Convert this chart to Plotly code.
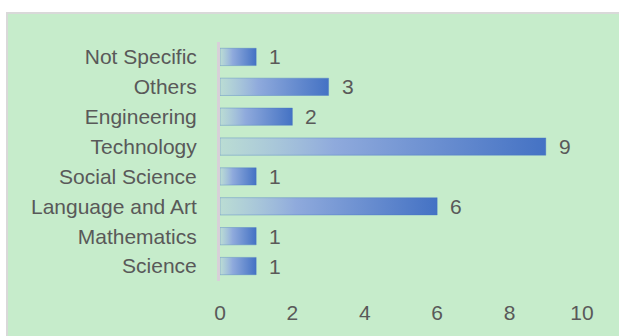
import plotly.graph_objects as go

categories = ["Science", "Mathematics", "Language and Art", "Social Science",
              "Technology", "Engineering", "Others", "Not Specific"]
values = [1, 1, 6, 1, 9, 2, 3, 1]
x_ticks = [0, 2, 4, 6, 8, 10]

W, H = 619, 336
ML, MR, MT, MB = 220, 37, 42, 55
BG = "#C6ECCB"
TXT = "#595959"
FONT = "Liberation Sans, Arial, sans-serif"
FS = 21
half = 0.29

fig = go.Figure()
for i, (c, v) in enumerate(zip(categories, values)):
    fig.add_trace(go.Scatter(
        x=[0, v, v, 0, 0],
        y=[i - half, i - half, i + half, i + half, i - half],
        mode="lines", fill="toself",
        line=dict(width=0.8, color="rgba(68,114,196,0.45)"),
        fillgradient=dict(type="horizontal",
                          colorscale=[[0, "rgba(160,185,230,0.3)"],
                                      [0.35, "#8FAADC"],
                                      [1, "#4472C4"]]),
        hoverinfo="skip", showlegend=False,
    ))
    fig.add_annotation(x=v, y=i, text=str(v), showarrow=False,
                       xanchor="left", xshift=11,
                       font=dict(size=FS, color=TXT, family=FONT))

pw = W - ML - MR
ph = H - MT - MB
def px2x(p):
    return (p - ML) / pw
def py2y(p):
    return (H - MB - p) / ph

# chart area background with border
fig.add_shape(type="rect", xref="paper", yref="paper",
              x0=px2x(7), x1=px2x(W + 5), y0=py2y(H + 5), y1=py2y(13),
              fillcolor=BG, line=dict(color="#D9D9D9", width=2), layer="below")

fig.update_layout(
    width=W, height=H,
    margin=dict(l=ML, r=MR, t=MT, b=MB),
    paper_bgcolor="white", plot_bgcolor=BG,
    font=dict(family=FONT, size=FS, color=TXT),
    xaxis=dict(range=[0, 10], tickvals=x_ticks, showgrid=False, zeroline=False,
               showline=False, ticks="", ticklabelstandoff=17,
               tickfont=dict(size=FS, color=TXT, family=FONT), fixedrange=True),
    yaxis=dict(range=[-0.5, 7.5], tickvals=list(range(len(categories))),
               ticktext=categories, showgrid=False, zeroline=False,
               showline=True, linecolor="#D8D0D8", linewidth=3, ticks="",
               ticklabelstandoff=16, layer="above traces",
               tickfont=dict(size=FS, color=TXT, family=FONT), fixedrange=True),
)

fig.write_html("out.html")
